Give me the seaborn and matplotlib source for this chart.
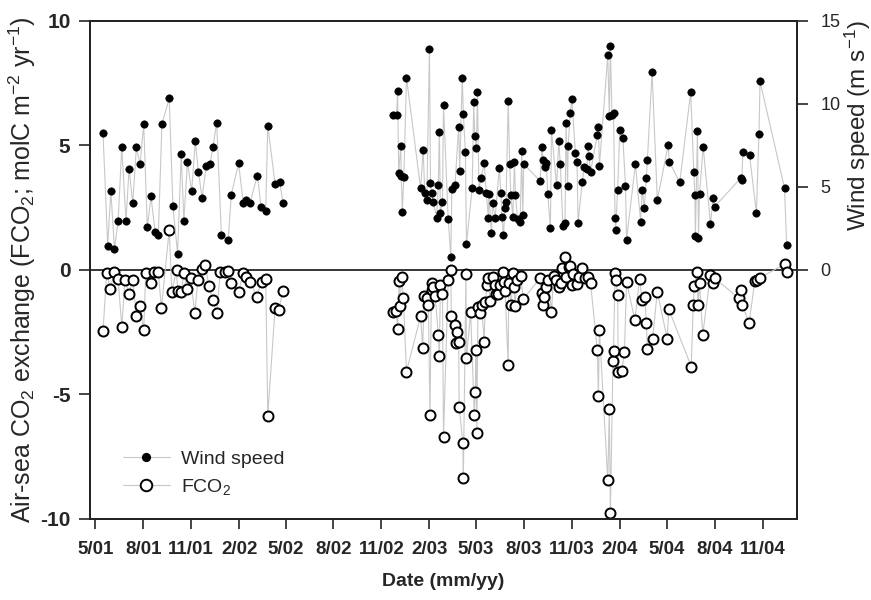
import numpy as np
import pandas as pd
import matplotlib
matplotlib.use("Agg")
import matplotlib.pyplot as plt
import seaborn as sns
from matplotlib.lines import Line2D

# sampling day, counted from 1 May 2001
start = pd.Timestamp("2001-05-01")

wind_day = [15, 24, 30, 37, 44, 51, 59, 65, 72, 79, 86, 93, 100, 107, 115,
            121, 128, 142, 149, 158, 165, 170, 177, 185, 192, 198, 205, 213,
            220, 226, 233, 242, 255, 261, 275, 284, 290, 297, 311, 318, 327,
            331, 345, 354, 360,
            571, 578, 580, 582, 586, 587, 589, 592, 597, 624, 629, 632, 636,
            641, 643, 645, 648, 655, 658, 660, 662, 666, 668, 677, 682, 684,
            690, 697, 699, 704, 706, 710, 712, 723, 726, 728, 731, 733, 736,
            740, 746, 750, 754, 755, 760, 762, 767, 775, 778, 780, 783, 786,
            788, 792, 795, 797, 801, 804, 806, 810, 815, 818, 820, 822,
            853, 857, 859, 862, 865, 868, 873, 875, 885, 889, 892, 897, 901,
            903, 906, 907, 911, 914, 921, 924, 926, 934, 938, 943, 945, 947,
            950, 963, 965, 967, 983, 986, 988, 991, 994, 997, 998, 1002, 1006,
            1012, 1017, 1019, 1036, 1046, 1049, 1053, 1057, 1059, 1068, 1078,
            1099, 1101, 1121, 1142, 1148, 1150, 1151, 1155, 1157, 1159, 1166,
            1180, 1185, 1188, 1238, 1240, 1242, 1255, 1268, 1273, 1275, 1322,
            1326]
wind_speed = [8.23, 1.46, 4.76, 1.25, 2.95, 7.41, 2.95, 6.06, 4.02, 7.37, 6.35,
              8.78, 2.57, 4.42, 2.27, 2.07, 8.78, 10.32, 3.87, 0.96, 6.95, 2.95,
              6.51, 4.72, 7.73, 5.90, 4.32, 6.27, 6.35, 7.41, 8.87, 2.09, 1.79,
              4.52, 6.41, 4.02, 4.18, 4.05, 5.68, 3.81, 3.55, 8.69, 5.16, 5.26,
              4.05,
              9.30, 9.30, 10.78, 5.82, 7.47, 5.66, 3.51, 5.62, 11.58, 4.92,
              7.23, 4.62, 4.22, 13.31, 5.22, 4.62, 4.11, 3.15, 5.12, 8.30, 3.42,
              4.11, 9.94, 3.05, 0.80, 4.86, 5.08, 8.63, 5.96, 11.55, 9.40, 7.09,
              1.55, 4.92, 10.08, 8.03, 7.33, 10.68, 4.82, 5.52, 6.43, 4.62,
              3.15, 4.58, 2.21, 4.02, 3.15, 6.13, 4.62, 3.21, 2.11, 3.72, 4.11,
              10.14, 6.37, 4.52, 3.21, 6.52, 4.52, 3.05, 2.91, 7.17, 3.31, 6.37,
              5.36, 7.37, 6.63, 6.22, 6.46, 4.56, 2.51, 8.39, 5.08, 7.73, 6.37,
              2.61, 2.81, 8.84, 5.02, 7.43, 9.44, 10.30, 7.03, 6.52, 2.85, 5.26,
              6.22, 6.08, 7.43, 6.87, 5.92, 8.13, 8.63, 6.28, 12.91, 9.24,
              13.45, 9.34, 9.44, 3.11, 2.41, 4.82, 8.43, 7.93, 5.06, 1.81, 6.37,
              2.91, 4.82, 3.72, 5.52, 6.63, 11.89, 4.22, 7.53, 6.52, 5.26,
              10.68, 5.92, 4.52, 2.01, 8.33, 1.91, 4.58, 7.39, 2.75, 4.32, 3.81,
              5.52, 5.38, 7.09, 6.89, 3.42, 8.19, 11.34, 4.92, 1.51]

fco2_day = [15, 22, 29, 37, 44, 51, 57, 65, 72, 79, 86, 93, 97, 107, 112, 121,
            127, 142, 147, 156, 158, 165, 170, 176, 183, 191, 197, 204, 211,
            218, 226, 233, 240, 248, 255, 261, 275, 284, 290, 297, 310, 319,
            327, 331, 345, 352, 360,
            571, 577, 580, 583, 584, 588, 591, 597, 624, 628, 631, 636, 639,
            642, 645, 646, 648, 652, 658, 660, 662, 666, 668, 677, 682, 683,
            690, 691, 694, 697, 698, 705, 706, 711, 712, 720, 727, 729, 730,
            732, 734, 738, 741, 746, 748, 752, 754, 757, 762, 767, 768, 773,
            776, 782, 784, 786, 792, 793, 798, 801, 803, 805, 809, 816, 821,
            853, 856, 858, 861, 865, 869, 875, 879, 884, 889, 893, 895, 901,
            903, 908, 911, 914, 917, 924, 927, 934, 940, 946, 950, 963, 965,
            967, 983, 986, 988, 993, 994, 997, 998, 1002, 1003, 1010, 1015,
            1019, 1035, 1044, 1049, 1054, 1057, 1059, 1069, 1078, 1097, 1100,
            1143, 1147, 1149, 1154, 1156, 1159, 1165, 1180, 1185, 1188, 1234,
            1239, 1241, 1254, 1265, 1270, 1274, 1322, 1326]
fco2_flux = [-2.45, -0.13, -0.76, -0.07, -0.37, -2.30, -0.40, -0.98, -0.41,
             -1.87, -1.47, -2.41, -0.13, -0.51, -0.09, -0.07, -1.54, 1.61,
             -0.87, 0.0, -0.83, -0.87, -0.13, -0.76, -0.33, -1.74, -0.40, 0.03,
             0.20, -0.64, -1.23, -1.74, -0.07, -0.07, -0.03, -0.51, -0.87,
             -0.13, -0.29, -0.47, -1.07, -0.47, -0.37, -5.85, -1.54, -1.63,
             -0.83,
             -1.71, -1.67, -2.38, -0.43, -1.47, -0.27, -1.14, -4.08, -1.87,
             -3.15, -1.04, -1.14, -1.41, -5.82, -0.54, -0.80, -0.67, -1.04,
             -2.61, -3.45, -0.60, -0.96, -6.69, -0.40, 0.0, -1.87, -2.21, -2.92,
             -2.50, -2.88, -5.49, -6.93, -8.37, -0.16, -3.52, -1.71, -5.82,
             -4.89, -3.21, -6.53, -1.50, -1.74, -1.41, -2.88, -1.31, -0.60,
             -0.33, -1.27, -0.27, -0.60, -0.98, -0.96, -0.60, -0.09, -0.47,
             -0.83, -3.82, -0.54, -1.41, -0.13, -0.67, -1.47, -0.40, -0.24,
             -1.18,
             -0.33, -0.94, -1.41, -1.07, -0.67, -0.40, -1.70, -0.24, -0.40,
             -0.69, -0.54, 0.07, 0.51, -0.27, 0.13, 0.16, -0.60, -0.16, -0.56,
             -0.27, 0.07, -0.33, -0.27, -0.54, -3.21, -5.06, -2.41, -8.43,
             -5.59, -9.77, -3.64, -3.25, -0.13, -0.40, -1.00, -4.08, -4.06,
             -3.28, -0.49, -2.01, -0.37, -1.20, -1.07, -2.12, -3.19, -2.77,
             -0.87, -2.77, -1.58, -3.88, -1.41, -0.64, -0.07, -1.41, -0.51,
             -2.61, -0.20, -0.51, -0.33, -1.14, -0.80, -1.41, -2.14, -0.45,
             -0.40, -0.33, 0.23, -0.07]

tick_dates = pd.date_range("2001-05-01", "2004-11-01", freq="3MS")
tick_labels = ["5/01", "8/01", "11/01", "2/02", "5/02", "8/02", "11/02",
               "2/03", "5/03", "8/03", "11/03", "2/04", "5/04", "8/04", "11/04"]


def to_frame(days, values):
    df = pd.DataFrame({"day": days, "value": values})
    df["date"] = start + pd.to_timedelta(df["day"], unit="D")
    # two sampling periods, no line drawn across the gap
    df["period"] = np.where(df["day"] < 450, 1, 2)
    return df


wind = to_frame(wind_day, wind_speed)
fco2 = to_frame(fco2_day, fco2_flux)

sns.set_style("ticks")
plt.rcParams["font.family"] = ["Liberation Sans", "DejaVu Sans"]
plt.rcParams["mathtext.default"] = "regular"

line_grey = "#c8c8c8"

fig = plt.figure(figsize=(8.71, 6), dpi=100)
ax = fig.add_axes([0.1033, 0.135, 0.8118, 0.8305])
ax2 = ax.twinx()

ax.axhline(0, color="black", lw=1.1, zorder=1)

sns.lineplot(data=fco2, x="date", y="value", units="period", estimator=None,
             color=line_grey, lw=0.8, ax=ax, legend=False, zorder=2)
sns.scatterplot(data=fco2, x="date", y="value", color="white",
                edgecolor="black", linewidth=1.4, s=52, ax=ax, zorder=3)

sns.lineplot(data=wind, x="date", y="value", units="period", estimator=None,
             color=line_grey, lw=0.8, ax=ax2, legend=False, zorder=2)
sns.scatterplot(data=wind, x="date", y="value", color="black",
                edgecolor="black", linewidth=0.5, s=28, ax=ax2, zorder=3)

ax.set_xlim(pd.Timestamp("2001-04-21"), pd.Timestamp("2005-01-06"))
ax.set_ylim(-10, 10)
ax.set_yticks([-10, -5, 0, 5, 10])
ax2.set_ylim(-15, 15)
ax2.set_yticks([0, 5, 10, 15])

ax.set_xticks(tick_dates)
ax.set_xticklabels(tick_labels, fontsize=13.5, fontweight="bold")
ax.set_yticklabels(["-10", "-5", "0", "5", "10"], fontsize=15,
                   fontweight="bold")
ax2.set_yticklabels(["0", "5", "10", "15"], fontsize=13)

ax.tick_params(axis="x", direction="out", length=7, width=1.2, pad=9)
ax.tick_params(axis="y", direction="out", length=8, width=1.2, pad=6)
ax2.tick_params(axis="y", direction="out", length=8, width=1.2, pad=9)

for a in (ax, ax2):
    for sp in a.spines.values():
        sp.set_linewidth(1.3)
        sp.set_color("#222222")

ax.set_xlabel("Date (mm/yy)", fontsize=14, fontweight="bold", labelpad=11)
ax.set_ylabel(r"Air-sea CO$_2$ exchange (FCO$_2$; molC m$^{-2}$ yr$^{-1}$)",
              fontsize=18)
ax.yaxis.set_label_coords(-0.0735, 0.5)
ax2.set_ylabel(r"Wind speed (m s$^{-1}$)", fontsize=17.5)
ax2.yaxis.set_label_coords(1.064, 0.789)

handles = [
    Line2D([], [], color=line_grey, lw=0.8, marker="o", markersize=5.6,
           markerfacecolor="black", markeredgecolor="black"),
    Line2D([], [], color=line_grey, lw=0.8, marker="o", markersize=8.3,
           markerfacecolor="white", markeredgecolor="black",
           markeredgewidth=1.4),
]
ax2.legend(handles, ["Wind speed", "FCO$_2$"], loc="lower left",
           bbox_to_anchor=(0.022, 0.010), frameon=False, fontsize=14,
           handlelength=2.4, handletextpad=0.6, labelspacing=0.45)

fig.savefig("out.png", dpi=100)
